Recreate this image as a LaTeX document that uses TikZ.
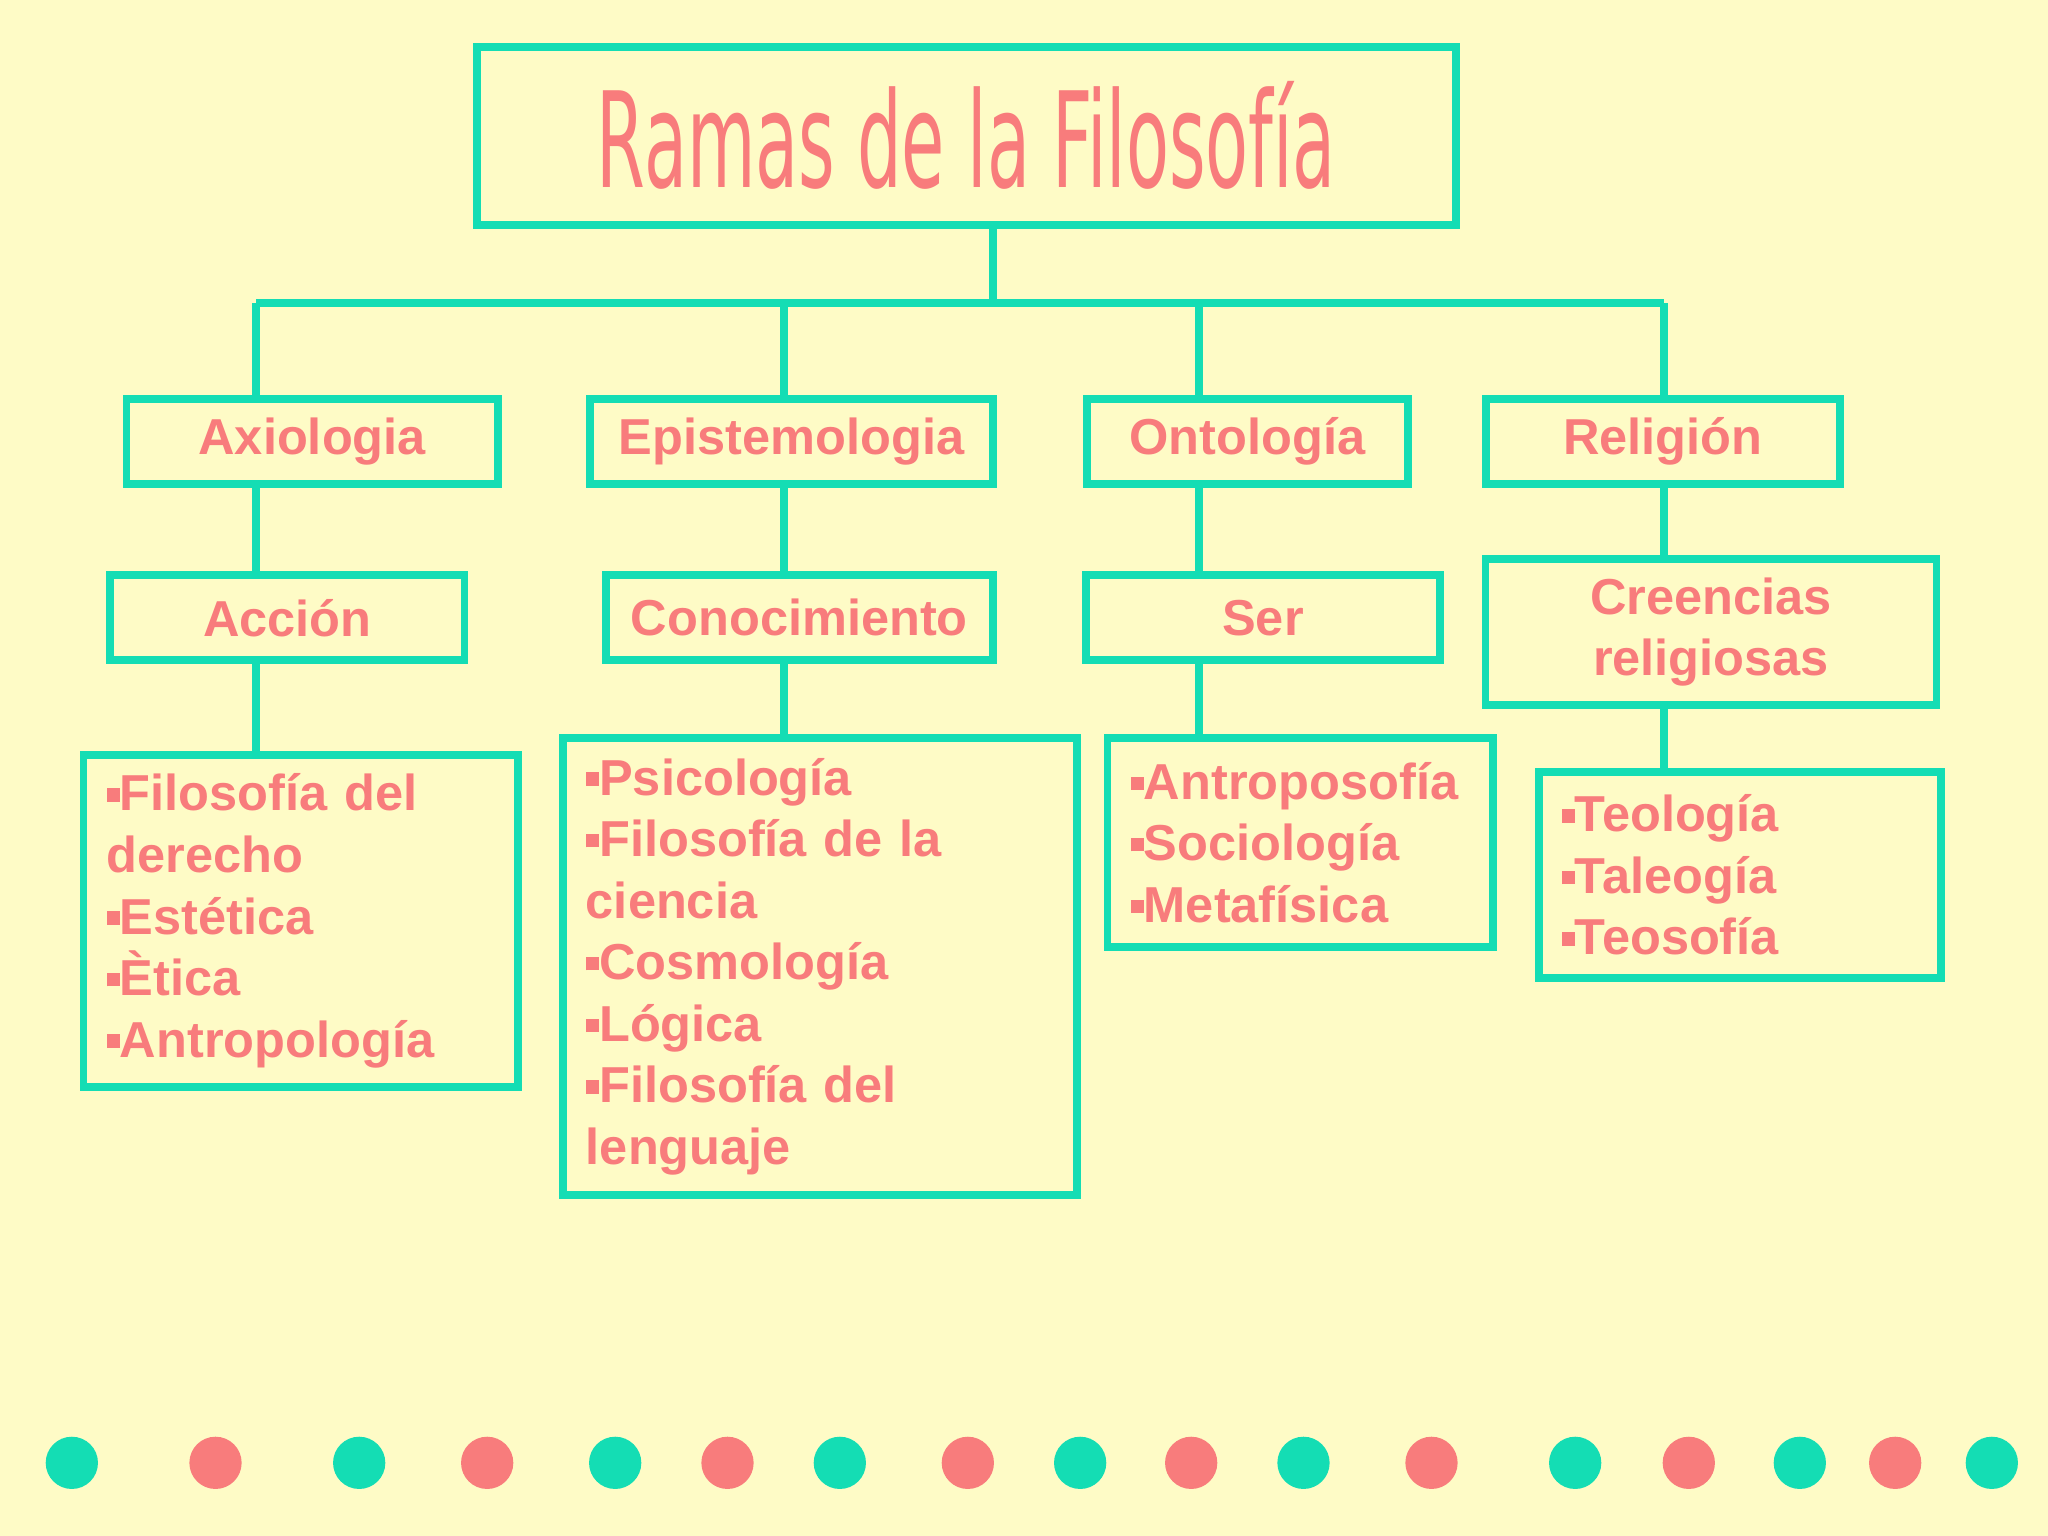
\documentclass[tikz,border=0pt]{standalone}
\usepackage{fontspec}
\setmainfont{Liberation Sans}
\newfontfamily\titlefont{DejaVu Sans Condensed}
\usetikzlibrary{positioning}
\definecolor{fondo}{HTML}{FEFBC6}
\definecolor{verde}{HTML}{14DDB4}
\definecolor{coral}{HTML}{F87C7C}
\newcommand{\itm}{\raisebox{0.35ex}{\textcolor{coral}{\rule{0.5ex}{0.5ex}}}}
\begin{document}
\begin{tikzpicture}[x=0.01cm,y=-0.01cm,
  caja/.style={draw=verde,line width=1.7pt,text=coral,font=\fontsize{11}{13.4}\selectfont\bfseries,inner sep=0pt},
  lista/.style={caja,anchor=north west,align=left,inner xsep=5pt,inner ysep=4pt},
  linea/.style={draw=verde,line width=1.7pt}]
\fill[fondo] (0,0) rectangle (1568,1176);

% Title
\node[caja,minimum width=7.49cm,minimum height=1.36cm,font=\titlefont\fontsize{17}{20}\selectfont] (tit) at (740,104) {\scalebox{1}[1.7]{Ramas de la Filosofía}};

% Bus
\coordinate (bus) at (760,232);
\coordinate (bAx) at (196,232);
\coordinate (bEp) at (600,232);
\coordinate (bOn) at (918,232);
\coordinate (bRe) at (1274,232);

% Level 1
\node[caja,minimum width=2.84cm,minimum height=0.65cm] (axi) at (239,338) {Axiologia};
\node[caja,minimum width=3.08cm,minimum height=0.65cm] (epi) at (606,338) {Epistemologia};
\node[caja,minimum width=2.46cm,minimum height=0.65cm] (ont) at (955,338) {Ontología};
\node[caja,minimum width=2.71cm,minimum height=0.65cm] (rel) at (1273,338) {Religión};

% Level 2
\node[caja,minimum width=2.71cm,minimum height=0.65cm] (acc) at (220,473) {Acción};
\node[caja,minimum width=2.96cm,minimum height=0.65cm] (con) at (612,473) {Conocimiento};
\node[caja,minimum width=2.71cm,minimum height=0.65cm] (ser) at (967,473) {Ser};
\node[caja,minimum width=3.45cm,minimum height=1.12cm,align=center] (cre) at (1310,484) {Creencias\\religiosas};

% Level 3
\node[lista,text width=2.97cm,minimum height=2.54cm] (lAx) at (61,575)
 {\itm Filosofía del\\derecho\\\itm Estética\\\itm Ètica\\\itm Antropología};
\node[lista,text width=3.58cm,minimum height=3.50cm] (lEp) at (428,562)
 {\itm Psicología\\\itm Filosofía de la\\ciencia\\\itm Cosmología\\\itm Lógica\\\itm Filosofía del\\lenguaje};
\node[lista,text width=2.60cm,minimum height=1.60cm] (lOn) at (845,562)
 {\itm Antroposofía\\\itm Sociología\\\itm Metafísica};
\node[lista,text width=2.73cm,minimum height=1.58cm] (lRe) at (1175,588)
 {\itm Teología\\\itm Taleogía\\\itm Teosofía};

% Connectors
\path[linea] (tit.south -| bus) -- (bus) (bAx) -- (bRe)
  (axi.north -| bAx) -- (bAx) (epi.north -| bEp) -- (bEp)
  (ont.north -| bOn) -- (bOn) (rel.north -| bRe) -- (bRe)
  (axi.south -| bAx) -- (acc.north -| bAx) (epi.south -| bEp) -- (con.north -| bEp)
  (ont.south -| bOn) -- (ser.north -| bOn) (rel.south -| bRe) -- (cre.north -| bRe)
  (acc.south -| bAx) -- (lAx.north -| bAx) (con.south -| bEp) -- (lEp.north -| bEp)
  (ser.south -| bOn) -- (lOn.north -| bOn) (cre.south -| bRe) -- (lRe.north -| bRe);

% Dots
\foreach \x/\c in {55/verde,165/coral,275/verde,373/coral,471/verde,557/coral,643/verde,741/coral,827/verde,912/coral,998/verde,1096/coral,1206/verde,1293/coral,1378/verde,1451/coral,1525/verde}
  \fill[\c] (\x,1120) circle (0.2cm);
\end{tikzpicture}
\end{document}
